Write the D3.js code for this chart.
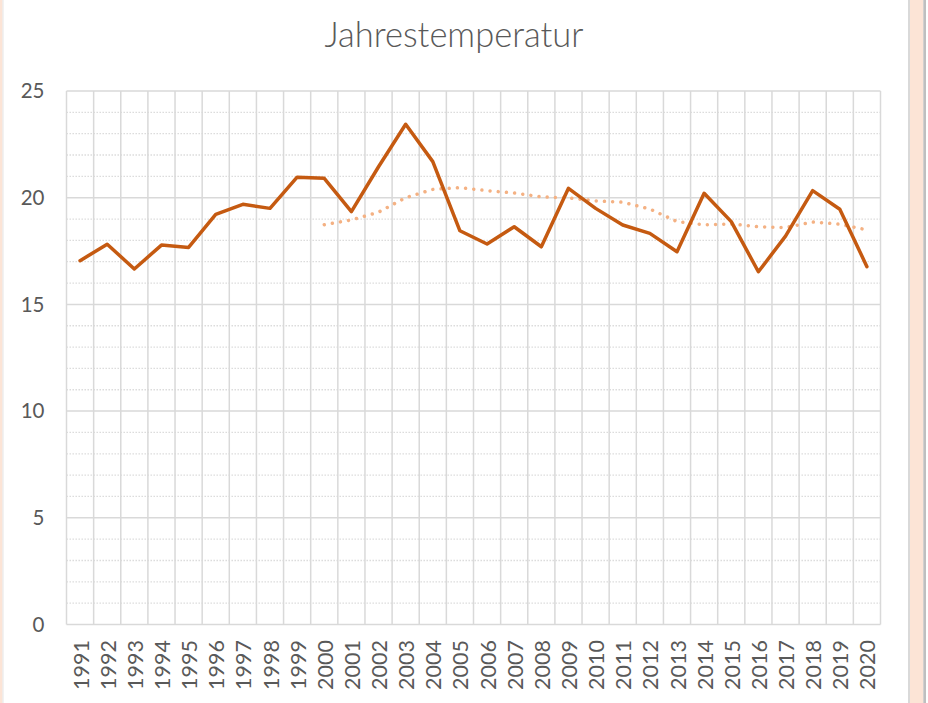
<!DOCTYPE html>
<html>
<head>
<meta charset="utf-8">
<script src="https://cdn.jsdelivr.net/npm/d3@7"></script>
<style>
  html, body { margin: 0; padding: 0; background: #fff; }
  svg { display: block; }
</style>
</head>
<body>
<svg id="chart" width="928" height="703"></svg>
<script>
const title = "Jahrestemperatur";
const years = ["1991","1992","1993","1994","1995","1996","1997","1998","1999","2000",
               "2001","2002","2003","2004","2005","2006","2007","2008","2009","2010",
               "2011","2012","2013","2014","2015","2016","2017","2018","2019","2020"];
const temperature = [17.05, 17.82, 16.66, 17.78, 17.67, 19.22, 19.69, 19.50, 20.96, 20.91,
                     19.35, 21.45, 23.44, 21.69, 18.45, 17.83, 18.64, 17.70, 20.44, 19.50,
                     18.72, 18.33, 17.47, 20.21, 18.88, 16.53, 18.20, 20.33, 19.46, 16.77];
// 10-year moving-average trend line (Excel trendline), starting 2000
const trendYears = ["2000","2001","2002","2003","2004","2005","2006","2007","2008","2009","2010",
                    "2011","2012","2013","2014","2015","2016","2017","2018","2019","2020"];
const trendValues = [18.73, 18.96, 19.32, 20.00, 20.39, 20.47, 20.33, 20.22, 20.04, 19.99, 19.85,
                     19.79, 19.47, 18.88, 18.73, 18.77, 18.64, 18.60, 18.86, 18.76, 18.49];
const yTicks = [0, 5, 10, 15, 20, 25];
const yMinorTicks = d3.range(0, 26, 1).filter(v => v % 5 !== 0);

const svg = d3.select("#chart");
const W = 928, H = 703;
const plot = { left: 66.5, right: 880.5, top: 91, bottom: 624.5 };

// frame decorations (window edges)
svg.append("rect").attr("x", 0).attr("y", 0).attr("width", 2.5).attr("height", H).attr("fill", "#FCE4D6");
svg.append("rect").attr("x", 2.5).attr("y", 0).attr("width", 1).attr("height", H).attr("fill", "#E6E6E6");
svg.append("rect").attr("x", 908).attr("y", 0).attr("width", 2).attr("height", H).attr("fill", "#D9D9D9");
svg.append("rect").attr("x", 910).attr("y", 0).attr("width", 13.3).attr("height", H).attr("fill", "#FCE4D6");
svg.append("rect").attr("x", 923.3).attr("y", 0).attr("width", 2.7).attr("height", H).attr("fill", "#BFBFBF");

const x = d3.scaleBand().domain(years).range([plot.left, plot.right]).padding(0);
const y = d3.scaleLinear().domain([0, 25]).range([plot.bottom, plot.top]);

const grid = svg.append("g");
// minor dotted horizontal gridlines
grid.selectAll("line.minor").data(yMinorTicks).join("line")
  .attr("class", "minor")
  .attr("x1", plot.left).attr("x2", plot.right)
  .attr("y1", d => y(d)).attr("y2", d => y(d))
  .attr("stroke", "#D9D9D9").attr("stroke-width", 1.3)
  .attr("stroke-dasharray", "1.4,1.6");
// major horizontal gridlines
grid.selectAll("line.major").data(yTicks).join("line")
  .attr("class", "major")
  .attr("x1", plot.left).attr("x2", plot.right)
  .attr("y1", d => y(d)).attr("y2", d => y(d))
  .attr("stroke", "#D9D9D9").attr("stroke-width", 1.5);
// vertical gridlines at category boundaries
const bounds = years.map(d => x(d)).concat([x(years[years.length - 1]) + x.bandwidth()]);
grid.selectAll("line.v").data(bounds).join("line")
  .attr("class", "v")
  .attr("x1", d => d).attr("x2", d => d)
  .attr("y1", plot.top).attr("y2", plot.bottom)
  .attr("stroke", "#D9D9D9").attr("stroke-width", 1.5);

// y tick labels
svg.append("g").selectAll("text").data(yTicks).join("text")
  .attr("x", 44.5).attr("y", d => y(d))
  .attr("dy", "0.35em")
  .attr("text-anchor", "end")
  .attr("font-family", "Lato, 'Open Sans', sans-serif")
  .attr("font-size", 20.5)
  .attr("fill", "#595959")
  .text(d => d);

// x tick labels rotated
svg.append("g").selectAll("text").data(years).join("text")
  .attr("transform", d => `translate(${x(d) + x.bandwidth() / 2 + 8.5},${640}) rotate(-90)`)
  .attr("text-anchor", "end")
  .attr("font-family", "Lato, 'Open Sans', sans-serif")
  .attr("font-size", 21.5)
  .attr("fill", "#595959")
  .text(d => d);

// title
svg.append("text")
  .attr("x", 454).attr("y", 46.7)
  .attr("text-anchor", "middle")
  .attr("font-family", "Lato, 'Open Sans', sans-serif")
  .attr("font-weight", 300)
  .attr("font-size", 34.5)
  .attr("fill", "#595959")
  .text(title);

const cx = d => x(d) + x.bandwidth() / 2;

// trend (dotted)
const trend = trendYears.map((yr, i) => ({ yr, v: trendValues[i] }));
svg.append("path")
  .datum(trend)
  .attr("d", d3.line().x(d => cx(d.yr)).y(d => y(d.v)))
  .attr("fill", "none")
  .attr("stroke", "#F4B183")
  .attr("stroke-width", 3.5)
  .attr("stroke-linecap", "round")
  .attr("stroke-dasharray", "0.01,8.2");

// main line
const series = years.map((yr, i) => ({ yr, v: temperature[i] }));
svg.append("path")
  .datum(series)
  .attr("d", d3.line().x(d => cx(d.yr)).y(d => y(d.v)))
  .attr("fill", "none")
  .attr("stroke", "#C55A11")
  .attr("stroke-width", 3.5)
  .attr("stroke-linejoin", "round")
  .attr("stroke-linecap", "round");
</script>
</body>
</html>
